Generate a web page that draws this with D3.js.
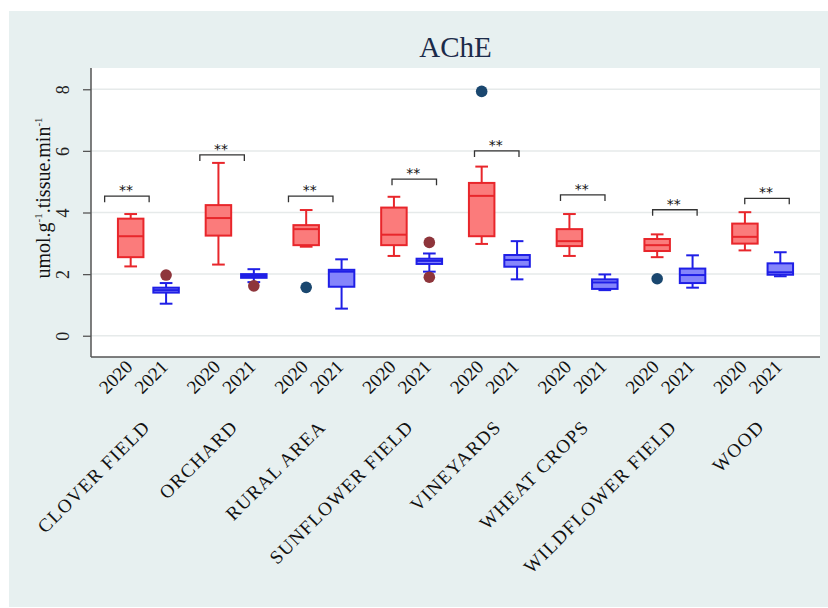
<!DOCTYPE html>
<html>
<head>
<meta charset="utf-8">
<script src="https://cdn.jsdelivr.net/npm/d3@7"></script>
<style>
  html, body { margin: 0; padding: 0; background: #ffffff; }
  svg { display: block; }
  text { font-family: "Palatino Linotype", "Book Antiqua", Palatino, "Liberation Serif", serif; }
</style>
</head>
<body>
<svg id="chart" width="828" height="608"></svg>
<script>
// Sampling sites and years
const sites = ["CLOVER FIELD", "ORCHARD", "RURAL AREA", "SUNFLOWER FIELD",
               "VINEYARDS", "WHEAT CROPS", "WILDFLOWER FIELD", "WOOD"];
const years = ["2020", "2021"];

// AChE activity (umol/g tissue/min): box-plot summaries per site, in site order
const low2020 = [2.25, 2.31, 2.89, 2.59, 2.98, 2.59, 2.55, 2.77];
const q1_2020 = [2.55, 3.25, 2.94, 2.94, 3.23, 2.91, 2.75, 2.99];
const med2020 = [3.23, 3.82, 3.46, 3.28, 4.54, 3.07, 2.94, 3.21];
const q3_2020 = [3.80, 4.24, 3.59, 4.16, 4.96, 3.46, 3.14, 3.64];
const high2020 = [3.95, 5.61, 4.08, 4.51, 5.49, 3.95, 3.29, 4.01];
const out2020 = [[], [], [1.57], [], [7.93], [], [1.85], []];

const low2021 = [1.04, 1.74, 0.88, 2.08, 1.83, 1.48, 1.56, 1.93];
const q1_2021 = [1.40, 1.88, 1.59, 2.33, 2.24, 1.52, 1.71, 1.98];
const med2021 = [1.48, 1.94, 2.08, 2.43, 2.46, 1.73, 1.97, 2.06];
const q3_2021 = [1.56, 2.00, 2.14, 2.50, 2.62, 1.83, 2.18, 2.35];
const high2021 = [1.71, 2.16, 2.48, 2.67, 3.07, 1.99, 2.61, 2.71];
const out2021 = [[1.97], [1.62], [], [3.03, 1.90], [], [], [], []];

// Significance brackets: level (data units), horizontal shift (in site steps), label
const bracketLevel = [4.53, 5.87, 4.53, 5.08, 6.00, 4.57, 4.09, 4.46];
const bracketShift = [-0.245, -0.16, -0.15, 0.03, -0.03, -0.05, 0.0, 0.05];
const bracketLabel = ["**", "**", "**", "**", "**", "**", "**", "**"];

const yTicks = [0, 2, 4, 6, 8];
const title = "AChE";

// ---------------------------------------------------------------
const W = 828, H = 608;
const plot = { left: 91, right: 820, top: 68, bottom: 357 };
const svg = d3.select("#chart");

const styles = {
  "2020": { stroke: "#e8262b", fill: "#fb7b7b", outlier: "#1a476f" },
  "2021": { stroke: "#1f1fe6", fill: "#8585fb", outlier: "#8e353b" }
};

// Graph region
svg.append("rect").attr("x", 9).attr("y", 11).attr("width", W - 9).attr("height", H - 12)
  .attr("fill", "#e7f0f0");
svg.append("rect").attr("x", plot.left).attr("y", plot.top)
  .attr("width", plot.right - plot.left).attr("height", plot.bottom - plot.top)
  .attr("fill", "#ffffff");

const y = d3.scaleLinear().domain([-0.69, 8.69]).range([plot.bottom, plot.top]);
const xSite = d3.scalePoint().domain(sites).range([plot.left, plot.right]).padding(0.654);
const xYear = d3.scalePoint().domain(years).range([-17.7, 17.7]);
const boxW = 25.5, capW = 12.7;

// Gridlines
svg.append("g").selectAll("line").data(yTicks).join("line")
  .attr("x1", plot.left).attr("x2", plot.right)
  .attr("y1", d => y(d)).attr("y2", d => y(d))
  .attr("stroke", "#e6eaea").attr("stroke-width", 1.5);

// Y axis
const yAxis = d3.axisLeft(y).tickValues(yTicks).tickSize(8).tickFormat(d3.format("d"));
const gy = svg.append("g").attr("transform", `translate(${plot.left},0)`).call(yAxis);
gy.select(".domain").remove();
gy.selectAll(".tick line").attr("stroke", "#555").attr("stroke-width", 1.3);
gy.selectAll(".tick text")
  .attr("x", null).attr("dy", null)
  .attr("text-anchor", "middle")
  .attr("transform", "translate(-22,0) rotate(-90)")
  .attr("font-size", 18).attr("fill", "#222")
  .style("font-family", "'Palatino Linotype','Book Antiqua',Palatino,'Liberation Serif',serif");

// Axis lines (left and bottom)
svg.append("line").attr("x1", plot.left).attr("x2", plot.left)
  .attr("y1", plot.top).attr("y2", plot.bottom).attr("stroke", "#555").attr("stroke-width", 1.5);
svg.append("line").attr("x1", plot.left).attr("x2", plot.right)
  .attr("y1", plot.bottom).attr("y2", plot.bottom).attr("stroke", "#555").attr("stroke-width", 1.5);

// Build box records
const summaries = {
  "2020": { low: low2020, q1: q1_2020, med: med2020, q3: q3_2020, high: high2020, out: out2020 },
  "2021": { low: low2021, q1: q1_2021, med: med2021, q3: q3_2021, high: high2021, out: out2021 }
};
const boxes = [];
sites.forEach((s, i) => {
  years.forEach(yr => {
    const t = summaries[yr];
    boxes.push({ site: s, year: yr, low: t.low[i], q1: t.q1[i], med: t.med[i],
                 q3: t.q3[i], high: t.high[i], out: t.out[i],
                 cx: xSite(s) + xYear(yr) });
  });
});

const gBoxes = svg.append("g");
boxes.forEach(b => {
  const st = styles[b.year];
  const g = gBoxes.append("g").attr("stroke", st.stroke).attr("stroke-width", 2);
  // whiskers
  g.append("line").attr("x1", b.cx).attr("x2", b.cx).attr("y1", y(b.q3)).attr("y2", y(b.high));
  g.append("line").attr("x1", b.cx).attr("x2", b.cx).attr("y1", y(b.q1)).attr("y2", y(b.low));
  g.append("line").attr("x1", b.cx - capW / 2).attr("x2", b.cx + capW / 2)
    .attr("y1", y(b.high)).attr("y2", y(b.high));
  g.append("line").attr("x1", b.cx - capW / 2).attr("x2", b.cx + capW / 2)
    .attr("y1", y(b.low)).attr("y2", y(b.low));
  // box
  g.append("rect").attr("x", b.cx - boxW / 2).attr("width", boxW)
    .attr("y", y(b.q3)).attr("height", y(b.q1) - y(b.q3))
    .attr("fill", st.fill);
  // median
  g.append("line").attr("x1", b.cx - boxW / 2).attr("x2", b.cx + boxW / 2)
    .attr("y1", y(b.med)).attr("y2", y(b.med));
});

// Outside values
const outPts = boxes.flatMap(b => b.out.map(v => ({ v, cx: b.cx, color: styles[b.year].outlier })));
svg.append("g").selectAll("circle").data(outPts).join("circle")
  .attr("cx", d => d.cx).attr("cy", d => y(d.v)).attr("r", 5.8)
  .attr("fill", d => d.color);

// Significance brackets
const step = xSite.step();
const bw = 44.5, tick = 6;
const gBr = svg.append("g");
sites.forEach((s, i) => {
  const cx = xSite(s) + bracketShift[i] * step;
  const by = y(bracketLevel[i]);
  gBr.append("path")
    .attr("d", `M${cx - bw / 2},${by + tick}V${by}H${cx + bw / 2}V${by + tick}`)
    .attr("fill", "none").attr("stroke", "#333").attr("stroke-width", 1.3);
  gBr.append("text").attr("x", cx - 1).attr("y", by - 1)
    .attr("text-anchor", "middle").attr("font-size", 14).attr("fill", "#111")
    .style("font-family", "'DejaVu Sans', sans-serif")
    .text(bracketLabel[i]);
});

// Year labels under each box
svg.append("g").selectAll("text").data(boxes).join("text")
  .attr("transform", d => `translate(${d.cx + 3},${plot.bottom + 11}) rotate(-45)`)
  .attr("text-anchor", "end").attr("font-size", 19).attr("fill", "#111")
  .text(d => d.year);

// Site labels
svg.append("g").selectAll("text").data(sites).join("text")
  .attr("transform", d => `translate(${xSite(d) + 3},${plot.bottom + 71}) rotate(-45)`)
  .attr("text-anchor", "end").attr("font-size", 19).attr("letter-spacing", 1.3).attr("fill", "#111")
  .text(d => d);

// Y-axis title
const yt = svg.append("text")
  .attr("transform", `translate(50,198) rotate(-90)`)
  .attr("text-anchor", "middle").attr("font-size", 20).attr("fill", "#111");
yt.append("tspan").text("umol.g");
yt.append("tspan").attr("dy", -8).attr("font-size", 11).text("-1");
yt.append("tspan").attr("dy", 8).text(".tissue.min");
yt.append("tspan").attr("dy", -8).attr("font-size", 11).text("-1");

// Title
svg.append("text").attr("x", (plot.left + plot.right) / 2).attr("y", 57)
  .attr("text-anchor", "middle").attr("font-size", 29).attr("fill", "#1c2b4a")
  .text(title);
</script>
</body>
</html>
